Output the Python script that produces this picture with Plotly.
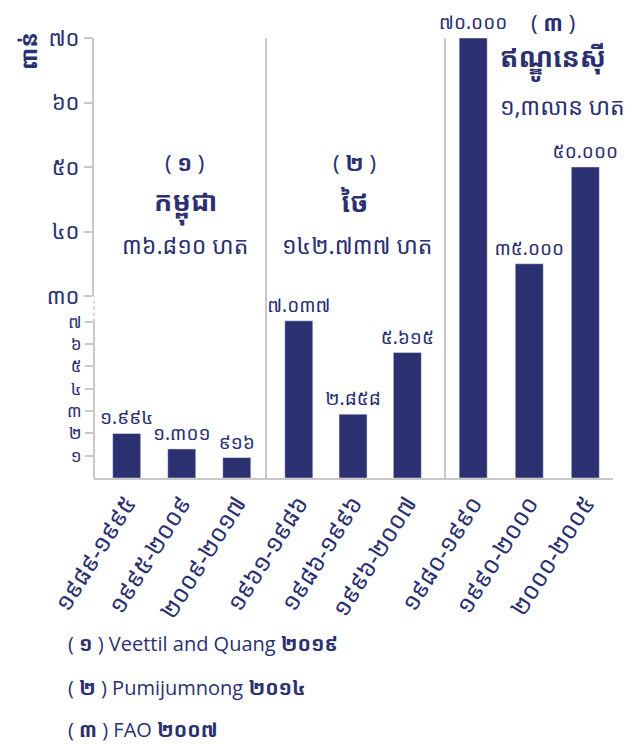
import plotly.graph_objects as go

NAVY = "#2b3070"
GREY = "#c8c8c8"
KH = "Noto Sans Khmer, Khmer OS, Khmer OS System, Noto Sans, sans-serif"
LAT = "Open Sans, Noto Sans, sans-serif"

# ---- data (thousand ha lost per year) ----
periods_kh = ["១៩៨៩-១៩៩៥", "១៩៩៥-២០០៩", "២០០៩-២០១៧"]
periods_th = ["១៩៦១-១៩៨៦", "១៩៨៦-១៩៩៦", "១៩៩៦-២០០៧"]
periods_id = ["១៩៨០-១៩៩០", "១៩៩០-២០០០", "២០០០-២០០៥"]
loss_kh = [1.994, 1.301, 0.916]
loss_th = [7.037, 2.858, 5.615]
loss_id = [70.0, 35.0, 50.0]
labels_kh = ["១.៩៩៤", "១.៣០១", "៩១៦"]
labels_th = ["៧.០៣៧", "២.៨៥៨", "៥.៦១៥"]
labels_id = ["៧០.០០០", "៣៥.០០០", "៥០.០០០"]
low_ticks = [1, 2, 3, 4, 5, 6, 7]
low_ticktext = ["១", "២", "៣", "៤", "៥", "៦", "៧"]
high_ticks = [30, 40, 50, 60, 70]
high_ticktext = ["៣០", "៤០", "៥០", "៦០", "៧០"]

# the page adds an 8px body margin, so the figure is drawn 8px in from the corner
OFF = 8
W, H = 639 - OFF, 744 - OFF
L, R, T, B = 94 - OFF, 26, 38 - OFF, 266
PW, PH = W - L - R, H - T - B


def px(x):
    return (x - OFF - L) / PW


def py(y):
    return (H - B - (y - OFF)) / PH


YSPLIT = py(296)
C1, C2 = px(267), px(446)
LOW_RANGE = [0, 8.15]
HIGH_RANGE = [30, 70]

fig = go.Figure()

valfont = dict(family=KH, size=19, color=NAVY)


def bar(x, y, xa, ya, text=None, width=0.51):
    return go.Bar(x=x, y=y, xaxis=xa, yaxis=ya, marker_color=NAVY,
                  width=width, text=text,
                  textposition="outside" if text else "none",
                  textfont=valfont, constraintext="none", cliponaxis=False,
                  showlegend=False, hoverinfo="x+y")


# lower row
fig.add_trace(bar(periods_kh, loss_kh, "x", "y", labels_kh, 0.509))
fig.add_trace(bar(periods_th, loss_th, "x2", "y2", labels_th, 0.516))
fig.add_trace(bar(periods_id, loss_id, "x3", "y3", None, 0.50))
# upper row
fig.add_trace(bar(periods_kh, loss_kh, "x4", "y4", None, 0.509))
fig.add_trace(bar(periods_th, loss_th, "x5", "y5", None, 0.516))
fig.add_trace(bar(periods_id, loss_id, "x6", "y6", labels_id, 0.50))

xcommon = dict(showline=True, linecolor=GREY, linewidth=2, ticks="",
               tickangle=-58, tickfont=dict(family=KH, size=24, color=NAVY),
               showgrid=False, zeroline=False, fixedrange=True,
               automargin=False)
xhidden = dict(visible=False, showgrid=False, zeroline=False)
ytick_hi = dict(family=KH, size=22, color=NAVY)
ytick_lo = dict(family=KH, size=17, color=NAVY)

fig.update_layout(
    width=W, height=H,
    margin=dict(l=L, r=R, t=T, b=B, autoexpand=False),
    paper_bgcolor="white", plot_bgcolor="white",
    xaxis=dict(domain=[0, C1], anchor="y", range=[-0.594, 2.549], **xcommon),
    xaxis2=dict(domain=[C1, C2], anchor="y2", range=[-0.586, 2.713], **xcommon),
    xaxis3=dict(domain=[C2, 1], anchor="y3", range=[-0.485, 2.494], **xcommon),
    xaxis4=dict(domain=[0, C1], anchor="y4", matches="x", **xhidden),
    xaxis5=dict(domain=[C1, C2], anchor="y5", matches="x2", **xhidden),
    xaxis6=dict(domain=[C2, 1], anchor="y6", matches="x3", **xhidden),
    yaxis=dict(domain=[0, YSPLIT], anchor="x", range=LOW_RANGE,
               tickvals=low_ticks, ticktext=low_ticktext, ticks="outside",
               ticklen=8, tickwidth=2, tickcolor=GREY, tickfont=ytick_lo,
               showline=False, showgrid=False, zeroline=False),
    yaxis2=dict(domain=[0, YSPLIT], anchor="x2", range=LOW_RANGE,
                showline=True, linecolor=GREY, linewidth=2, showticklabels=False,
                ticks="", showgrid=False, zeroline=False),
    yaxis3=dict(domain=[0, YSPLIT], anchor="x3", range=LOW_RANGE,
                showline=True, linecolor=GREY, linewidth=2, showticklabels=False,
                ticks="", showgrid=False, zeroline=False),
    yaxis4=dict(domain=[YSPLIT, 1], anchor="x4", range=HIGH_RANGE,
                tickvals=high_ticks, ticktext=high_ticktext, ticks="outside",
                ticklen=8, tickwidth=2, tickcolor=GREY, tickfont=ytick_hi,
                showline=True, linecolor=GREY, linewidth=2,
                showgrid=False, zeroline=False),
    yaxis5=dict(domain=[YSPLIT, 1], anchor="x5", range=HIGH_RANGE,
                showline=True, linecolor=GREY, linewidth=2, showticklabels=False,
                ticks="", showgrid=False, zeroline=False),
    yaxis6=dict(domain=[YSPLIT, 1], anchor="x6", range=HIGH_RANGE,
                showline=True, linecolor=GREY, linewidth=2, showticklabels=False,
                ticks="", showgrid=False, zeroline=False),
)

# left axis line of the lower part: solid, then dotted break up to the upper part
fig.add_shape(type="line", xref="x domain", yref="y", x0=0, x1=0, y0=0, y1=7,
              line=dict(color=GREY, width=2))
fig.add_shape(type="line", xref="x domain", yref="y", x0=0, x1=0, y0=7,
              y1=LOW_RANGE[1], line=dict(color=GREY, width=1.5, dash="dot"))


def ann(text, x, y, size=20, bold=False, family=KH, xanchor="center", angle=0):
    fig.add_annotation(text=f"<b>{text}</b>" if bold else text,
                       xref="paper", yref="paper", x=px(x), y=py(y),
                       xanchor=xanchor, yanchor="middle", showarrow=False,
                       textangle=angle,
                       font=dict(family=family, size=size, color=NAVY))


# y-axis unit
ann("ពាន់", 28, 51, size=23, bold=True, angle=-90)

# group headers
ann("( <b>១</b> )", 184, 162, size=22)
ann("កម្ពុជា", 185, 204, size=27, bold=True)
ann("៣៦.៨១០ ហត", 185, 245, size=23)

ann("( <b>២</b> )", 354, 162, size=22)
ann("ថៃ", 354, 202, size=27, bold=True)
ann("១៤២.៧៣៧ ហត", 357, 245, size=23)

ann("( <b>៣</b> )", 553, 22, size=22)
ann("ឥណ្ឌូនេស៊ី", 553, 60, size=27, bold=True)
ann("១,៣លាន ហត", 562, 106, size=23)

# sources
SF = LAT + ", " + KH
ann("( <b>១</b> ) Veettil and Quang <b>២០១៩</b>", 66, 643, size=20,
    family=SF, xanchor="left")
ann("( <b>២</b> ) Pumijumnong <b>២០១៤</b>", 66, 687, size=20,
    family=SF, xanchor="left")
ann("( <b>៣</b> ) FAO <b>២០០៧</b>", 66, 729, size=20,
    family=SF, xanchor="left")

fig.write_html("out.html")
